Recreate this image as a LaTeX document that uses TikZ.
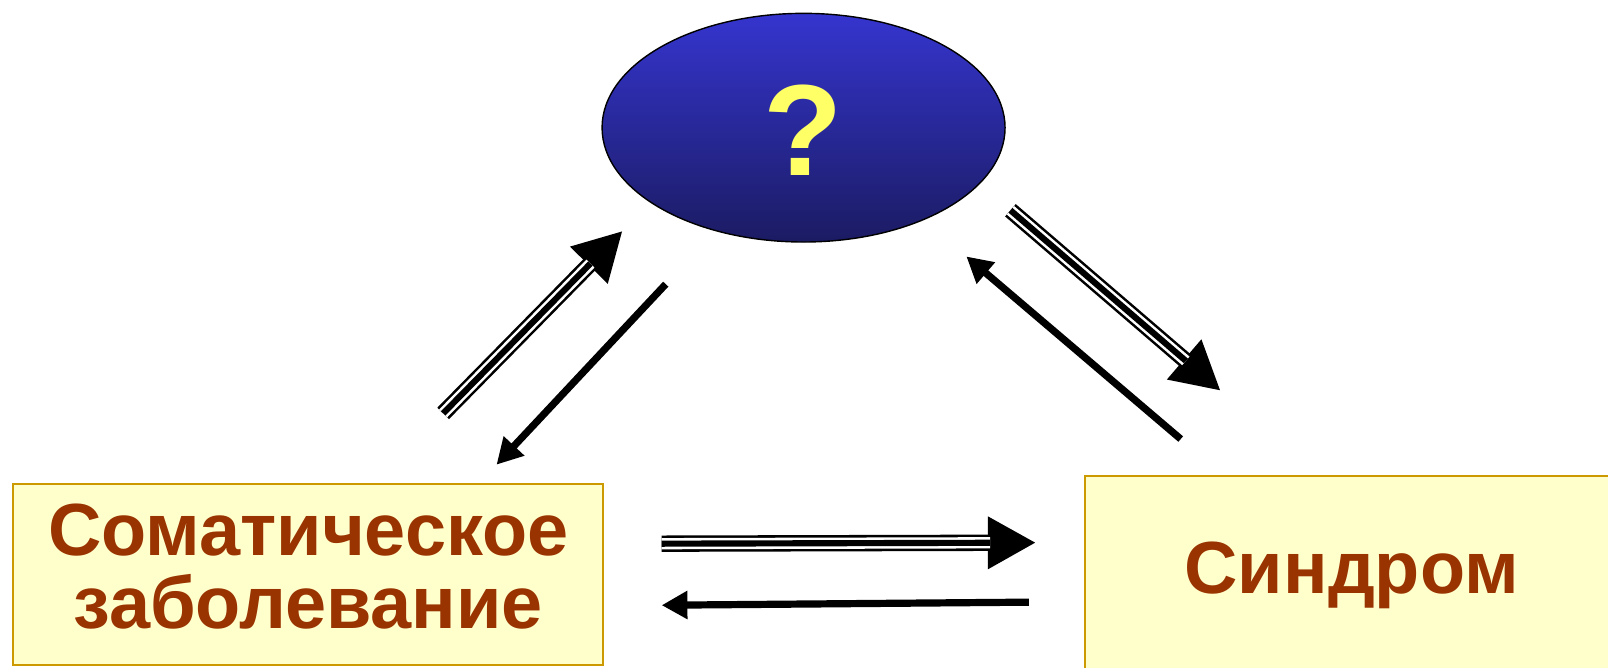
\documentclass[tikz,border=0pt]{standalone}
\usepackage{fontspec}
\setmainfont{Liberation Sans}
\usetikzlibrary{arrows.meta,shapes.geometric}
\definecolor{boxfill}{HTML}{FFFFCC}
\definecolor{boxline}{HTML}{CC9900}
\definecolor{txt}{HTML}{993300}
\definecolor{elltop}{HTML}{3535CF}
\definecolor{ellbot}{HTML}{1B1B63}
\definecolor{qmark}{HTML}{FFFF66}
\newcommand\tripar[2]{%
  \draw[line width=9.3pt, -{Triangle[length=0.965cm,width=0.985cm]}] (#1) -- (#2);
  \draw[white, line width=6.4pt, shorten >=0.92cm] (#1) -- (#2);
  \draw[black, line width=3.5pt, shorten >=0.92cm] (#1) -- (#2);}
\begin{document}
\begin{tikzpicture}[x=0.02cm,y=-0.02cm,
  box/.style={draw=boxline, line width=1.1pt, fill=boxfill, inner sep=0pt},
  lbl/.style={text=txt, font=\fontsize{41}{40.5}\selectfont\bfseries, align=center, inner sep=0pt},
  single/.style={line width=4.1pt, -{Triangle[length=0.515cm,width=0.535cm]}}
]
\useasboundingbox (0,0) rectangle (1608,668);
\clip (0,0) rectangle (1608,668);
\fill[white] (0,0) rectangle (1608,668);

\begin{scope}[scale=1.0256, transform shape]
% nodes
\node[ellipse, draw, line width=0.8pt, top color=elltop, bottom color=ellbot,
      minimum width=7.86cm, minimum height=4.46cm, inner sep=0pt] (q) at (783.5,124.5) {};
\node[text=qmark, font=\fontsize{72}{72}\selectfont\bfseries, inner sep=0pt] (qm) at (783.5,126.5) {?};

\node[box, minimum width=11.5cm, minimum height=3.52cm] (som) at (300.5,560) {};
\node[lbl] (somt) at (300.5,552) {Соматическое\\заболевание};

\node[box, anchor=north west, minimum width=11.8cm, minimum height=4.8cm] (syn) at (1057,463) {};
\node[lbl, anchor=base] (synt) at (1318,579) {Синдром};

% arrow end points
\coordinate (a1s) at (432,403); \coordinate (a1e) at (607,225);
\coordinate (a2s) at (649,277); \coordinate (a2e) at (484,453);
\coordinate (a3s) at (985,205); \coordinate (a3e) at (1190,381);
\coordinate (a4s) at (1151,428); \coordinate (a4e) at (942,250);
\coordinate (a5s) at (645,530); \coordinate (a5e) at (1010,529);
\coordinate (a6s) at (1003,587); \coordinate (a6e) at (645,590);

\tripar{a1s}{a1e}
\tripar{a3s}{a3e}
\tripar{a5s}{a5e}
\draw[single] (a2s) -- (a2e);
\draw[single] (a4s) -- (a4e);
\draw[single] (a6s) -- (a6e);
\end{scope}
\end{tikzpicture}
\end{document}
